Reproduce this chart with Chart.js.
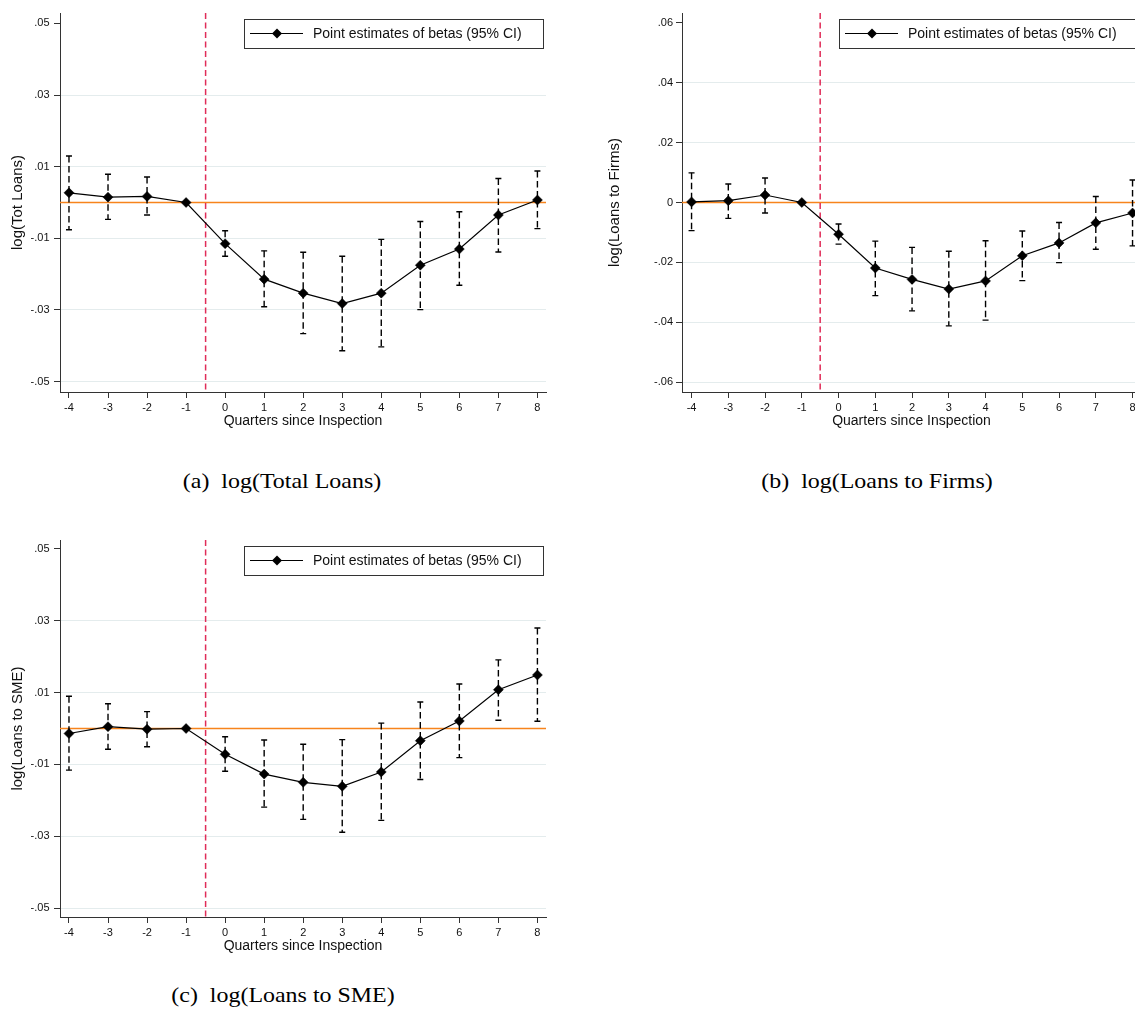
<!DOCTYPE html>
<html>
<head>
<meta charset="utf-8">
<script src="https://cdn.jsdelivr.net/npm/chart.js@4.4.1/dist/chart.umd.min.js"></script>
<style>
  html, body { margin: 0; padding: 0; background: #fff; overflow: hidden; }
  #page { position: relative; width: 1135px; height: 1017px; overflow: hidden; }
  canvas { position: absolute; }
  .cap { position: absolute; font-family: "Liberation Serif", "Times New Roman", serif; font-size: 21px;
         line-height: 24px; white-space: pre; color: #000; transform: translateX(-50%) scaleX(1.14); }
</style>
</head>
<body>
<div id="page">
  <canvas id="panelA" width="560" height="440" style="left:0px;top:0px"></canvas>
  <canvas id="panelB" width="586" height="440" style="left:570px;top:0px"></canvas>
  <canvas id="panelC" width="560" height="438" style="left:0px;top:527px"></canvas>
  <div class="cap" style="left:282px;top:469px">(a)  log(Total Loans)</div>
  <div class="cap" style="left:877px;top:469px">(b)  log(Loans to Firms)</div>
  <div class="cap" style="left:283px;top:983px">(c)  log(Loans to SME)</div>
</div>
<script>
// quarters relative to the inspection
const quarters = [-4, -3, -2, -1, 0, 1, 2, 3, 4, 5, 6, 7, 8];

// (a) log(Total Loans)
const totBeta = [0.0027, 0.0015, 0.0017, 0, -0.0115, -0.0214, -0.0253, -0.0282, -0.0253, -0.0175, -0.0130, -0.0035, 0.0007];
const totLow  = [-0.0076, -0.0047, -0.0035, null, -0.0150, -0.0291, -0.0366, -0.0414, -0.0403, -0.0299, -0.0231, -0.0138, -0.0073];
const totHigh = [0.0130, 0.0079, 0.0071, null, -0.0079, -0.0135, -0.0139, -0.0150, -0.0103, -0.0053, -0.0026, 0.0067, 0.0088];

// (b) log(Loans to Firms)
const firmBeta = [0.0002, 0.0006, 0.0025, 0, -0.0106, -0.0219, -0.0257, -0.0289, -0.0262, -0.0178, -0.0135, -0.0068, -0.0035];
const firmLow  = [-0.0094, -0.0053, -0.0035, null, -0.0139, -0.0311, -0.0362, -0.0412, -0.0393, -0.0261, -0.0201, -0.0156, -0.0145];
const firmHigh = [0.0099, 0.0062, 0.0082, null, -0.0072, -0.0129, -0.0150, -0.0163, -0.0128, -0.0095, -0.0067, 0.0020, 0.0075];

// (c) log(Loans to SME)
const smeBeta = [-0.0014, 0.0005, -0.0002, 0, -0.0072, -0.0127, -0.0150, -0.0161, -0.0121, -0.0034, 0.0021, 0.0108, 0.0149];
const smeLow  = [-0.0116, -0.0058, -0.0051, null, -0.0119, -0.0219, -0.0253, -0.0289, -0.0256, -0.0142, -0.0081, 0.0023, 0.0020];
const smeHigh = [0.0090, 0.0069, 0.0047, null, -0.0023, -0.0032, -0.0044, -0.0031, 0.0015, 0.0074, 0.0124, 0.0191, 0.0280];

// y tick values
const ticksTot = [-0.05, -0.03, -0.01, 0.01, 0.03, 0.05];
const ticksFirm = [-0.06, -0.04, -0.02, 0, 0.02, 0.04, 0.06];
const ticksSme = [-0.05, -0.03, -0.01, 0.01, 0.03, 0.05];

const zeroLine = 0;
const eventLine = -0.5;
const seriesLabel = 'Point estimates of betas (95% CI)';
const xTitle = 'Quarters since Inspection';

Chart.defaults.font.family = '"Liberation Sans", Arial, Helvetica, sans-serif';
Chart.defaults.color = '#111';

const fmt = (v) => {
  if (Math.abs(v) < 1e-9) return '0';
  return (v < 0 ? '-' : '') + Math.abs(v).toFixed(2).replace(/^0/, '');
};

// reference lines + confidence intervals, drawn behind the estimates
const ciPlugin = {
  id: 'ciBars',
  beforeDatasetsDraw(chart, args, opts) {
    const { ctx, chartArea: a, scales: { x, y } } = chart;
    ctx.save();
    // horizontal zero line
    ctx.strokeStyle = 'rgb(247,132,28)';
    ctx.lineWidth = 1.6;
    ctx.beginPath();
    const y0 = y.getPixelForValue(zeroLine);
    ctx.moveTo(a.left, y0); ctx.lineTo(a.right, y0);
    ctx.stroke();
    // vertical event line
    ctx.strokeStyle = 'rgb(224,44,88)';
    ctx.lineWidth = 1.5;
    ctx.setLineDash([6, 3.5]);
    const xe = x.getPixelForValue(eventLine);
    ctx.beginPath();
    ctx.moveTo(xe, a.top); ctx.lineTo(xe, a.bottom);
    ctx.stroke();
    // CI bars
    ctx.strokeStyle = '#000';
    ctx.lineWidth = 1.4;
    opts.low.forEach((lo, i) => {
      const hi = opts.high[i];
      if (lo === null || hi === null) return;
      const px = x.getPixelForValue(quarters[i]);
      const pl = y.getPixelForValue(lo);
      const ph = y.getPixelForValue(hi);
      ctx.setLineDash([6.5, 3.5]);
      ctx.beginPath();
      ctx.moveTo(px, ph); ctx.lineTo(px, pl);
      ctx.stroke();
      ctx.setLineDash([]);
      ctx.beginPath();
      ctx.moveTo(px - 3, ph); ctx.lineTo(px + 3, ph);
      ctx.moveTo(px - 3, pl); ctx.lineTo(px + 3, pl);
      ctx.stroke();
    });
    ctx.restore();
  }
};

// Stata-like boxed legend in the top right of the plot area
const boxLegend = {
  id: 'boxLegend',
  afterDraw(chart) {
    const { ctx, chartArea: a } = chart;
    const w = 299, h = 29;
    const right = a.right - 3, left = right - w, top = a.top + 6;
    ctx.save();
    ctx.fillStyle = '#fff';
    ctx.fillRect(left, top, w, h);
    ctx.strokeStyle = '#333';
    ctx.lineWidth = 1;
    ctx.strokeRect(left + 0.5, top + 0.5, w, h);
    const cy = top + h / 2;
    ctx.strokeStyle = '#000';
    ctx.lineWidth = 1.2;
    ctx.beginPath();
    ctx.moveTo(left + 6, cy); ctx.lineTo(left + 59, cy);
    ctx.stroke();
    const dx = left + 33, r = 5;
    ctx.fillStyle = '#000';
    ctx.beginPath();
    ctx.moveTo(dx - r, cy); ctx.lineTo(dx, cy - r); ctx.lineTo(dx + r, cy); ctx.lineTo(dx, cy + r);
    ctx.closePath();
    ctx.fill();
    ctx.font = '14px "Liberation Sans", Arial, sans-serif';
    ctx.fillStyle = '#111';
    ctx.textBaseline = 'middle';
    ctx.fillText(chart.data.datasets[0].label, left + 69, cy + 1);
    ctx.restore();
  }
};

function makePanel(id, beta, low, high, yTicks, cfg) {
  const topTick = Math.max(...yTicks);
  return new Chart(document.getElementById(id), {
    type: 'line',
    data: {
      datasets: [{
        label: seriesLabel,
        data: quarters.map((q, i) => ({ x: q, y: beta[i] })),
        borderColor: '#000',
        borderWidth: 1.2,
        pointStyle: 'rectRot',
        pointRadius: 5,
        pointBackgroundColor: '#000',
        pointBorderColor: '#000',
        pointBorderWidth: 0.5,
        tension: 0
      }]
    },
    options: {
      responsive: false,
      animation: false,
      events: [],
      layout: { padding: { left: 0, right: cfg.padRight, top: 13, bottom: 0 } },
      plugins: {
        legend: { display: false },
        tooltip: { enabled: false },
        ciBars: { low, high }
      },
      scales: {
        x: {
          type: 'linear',
          min: cfg.xMin, max: cfg.xMax,
          afterBuildTicks: (s) => { s.ticks = quarters.map(v => ({ value: v })); },
          afterFit: (s) => { s.height = 48; },
          ticks: { autoSkip: false, maxRotation: 0, padding: 3, font: { size: 11 }, color: '#111',
                   callback: (v) => String(v) },
          grid: { drawOnChartArea: false, tickLength: 6, tickColor: '#333' },
          border: { display: true, color: '#333', width: 1 },
          title: { display: true, text: xTitle, font: { size: 14 }, color: '#111',
                   padding: { top: 0, bottom: 10 } }
        },
        y: {
          type: 'linear',
          min: cfg.yMin, max: cfg.yMax,
          afterBuildTicks: (s) => { s.ticks = yTicks.map(v => ({ value: v })); },
          afterFit: (s) => { s.width = cfg.yWidth; },
          ticks: { padding: cfg.tickPad, font: { size: 11 }, color: '#111', callback: (v) => fmt(v) },
          grid: {
            tickLength: 6, tickColor: '#333', lineWidth: 1,
            color: (c) => (c.tick && Math.abs(c.tick.value - topTick) < 1e-9) ? 'rgba(0,0,0,0)' : '#e4eced'
          },
          border: { display: true, color: '#333', width: 1 },
          title: { display: true, text: cfg.yTitle, font: { size: 15 }, color: '#111',
                   padding: { top: cfg.titlePad, bottom: 0 } }
        }
      }
    },
    plugins: [ciPlugin, boxLegend]
  });
}

makePanel('panelA', totBeta, totLow, totHigh, ticksTot,
  { xMin: -4.23, xMax: 8.22, yMin: -0.0529, yMax: 0.0529, yWidth: 60, padRight: 14,
    tickPad: 4.5, titlePad: 9.3, yTitle: 'log(Tot Loans)' });

makePanel('panelB', firmBeta, firmLow, firmHigh, ticksFirm,
  { xMin: -4.26, xMax: 8.23, yMin: -0.0633, yMax: 0.0633, yWidth: 112, padRight: 15,
    tickPad: 3, titlePad: 36.3, yTitle: 'log(Loans to Firms)' });

makePanel('panelC', smeBeta, smeLow, smeHigh, ticksSme,
  { xMin: -4.23, xMax: 8.22, yMin: -0.0525, yMax: 0.0525, yWidth: 60, padRight: 14,
    tickPad: 4.5, titlePad: 9.3, yTitle: 'log(Loans to SME)' });
</script>
</body>
</html>
